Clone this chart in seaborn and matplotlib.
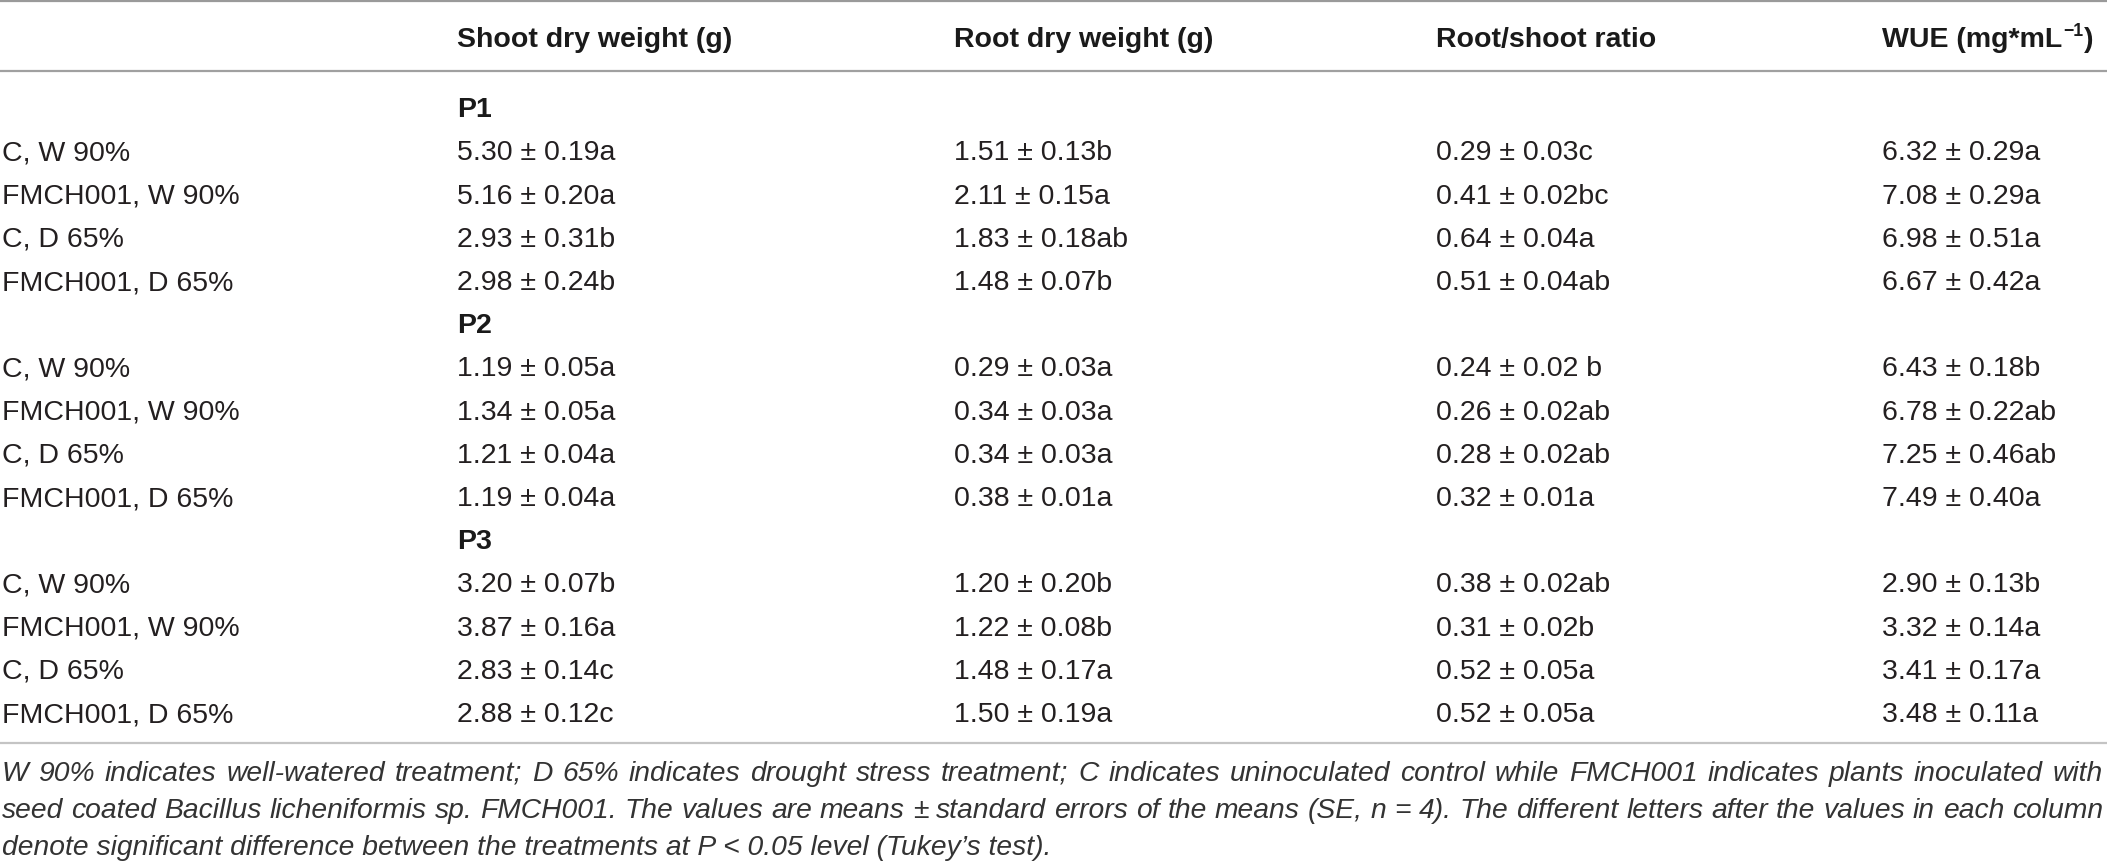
import matplotlib
matplotlib.use("Agg")
import matplotlib.pyplot as plt
import seaborn as sns
import pandas as pd

# ---------------- data ----------------
periods = ["P1", "P2", "P3"]
treatments = ["C, W 90%", "FMCH001, W 90%", "C, D 65%", "FMCH001, D 65%"]
columns = ["Shoot dry weight (g)", "Root dry weight (g)", "Root/shoot ratio", "WUE (mg*mL"]

shoot_mean = [5.30, 5.16, 2.93, 2.98, 1.19, 1.34, 1.21, 1.19, 3.20, 3.87, 2.83, 2.88]
shoot_se = [0.19, 0.20, 0.31, 0.24, 0.05, 0.05, 0.04, 0.04, 0.07, 0.16, 0.14, 0.12]
shoot_let = ["a", "a", "b", "b", "a", "a", "a", "a", "b", "a", "c", "c"]

root_mean = [1.51, 2.11, 1.83, 1.48, 0.29, 0.34, 0.34, 0.38, 1.20, 1.22, 1.48, 1.50]
root_se = [0.13, 0.15, 0.18, 0.07, 0.03, 0.03, 0.03, 0.01, 0.20, 0.08, 0.17, 0.19]
root_let = ["b", "a", "ab", "b", "a", "a", "a", "a", "b", "b", "a", "a"]

ratio_mean = [0.29, 0.41, 0.64, 0.51, 0.24, 0.26, 0.28, 0.32, 0.38, 0.31, 0.52, 0.52]
ratio_se = [0.03, 0.02, 0.04, 0.04, 0.02, 0.02, 0.02, 0.01, 0.02, 0.02, 0.05, 0.05]
ratio_let = ["c", "bc", "a", "ab", " b", "ab", "ab", "a", "ab", "b", "a", "a"]

wue_mean = [6.32, 7.08, 6.98, 6.67, 6.43, 6.78, 7.25, 7.49, 2.90, 3.32, 3.41, 3.48]
wue_se = [0.29, 0.29, 0.51, 0.42, 0.18, 0.22, 0.46, 0.40, 0.13, 0.14, 0.17, 0.11]
wue_let = ["a", "a", "a", "a", "b", "ab", "ab", "a", "b", "a", "a", "a"]

caption_lines = [
    "W 90% indicates well-watered treatment; D 65% indicates drought stress treatment; C indicates uninoculated control while FMCH001 indicates plants inoculated with",
    "seed coated Bacillus licheniformis sp. FMCH001. The values are means \u00b1 standard errors of the means (SE, n = 4). The different letters after the values in each column",
    "denote significant difference between the treatments at P < 0.05 level (Tukey\u2019s test).",
]

# ---------------- table frame ----------------
def fmt(m, s, l):
    return [f"{a:.2f} \u00b1 {b:.2f}{c}" for a, b, c in zip(m, s, l)]

df = pd.DataFrame({
    "period": [p for p in periods for _ in treatments],
    "treatment": treatments * len(periods),
    columns[0]: fmt(shoot_mean, shoot_se, shoot_let),
    columns[1]: fmt(root_mean, root_se, root_let),
    columns[2]: fmt(ratio_mean, ratio_se, ratio_let),
    columns[3]: fmt(wue_mean, wue_se, wue_let),
})

# ---------------- style ----------------
sns.set_theme(style="white")
plt.rcParams["font.family"] = ["Liberation Sans", "DejaVu Sans"]

W, H = 2107, 861
fig = plt.figure(figsize=(W / 100, H / 100), dpi=100)
ax = fig.add_axes([0, 0, 1, 1])
ax.set_xlim(0, W)
ax.set_ylim(H, 0)
ax.axis("off")

FS = 20.5          # pt (≈28.5 px)
CFS = 20.3         # caption
txt_col = "#231f20"

label_x = 2
col_x = [457, 954, 1436, 1882]
header_y = 37
row0_y = 107
pitch = 43.2
cap_off = 0.36 * FS * 100 / 72   # center -> baseline

# rules
for yy, c in [(1, "#9a9a9a"), (71, "#a0a0a0"), (743, "#c4c4c4")]:
    ax.axhline(yy, color=c, lw=1.6)

# header
for i, name in enumerate(columns):
    t = ax.text(col_x[i], header_y + cap_off, name, fontsize=FS, fontweight="bold",
                color="#1a1a1a", ha="left", va="baseline")
fig.canvas.draw()
r = fig.canvas.get_renderer()
bb = t.get_window_extent(r)
t_sup = ax.text(bb.x1 + 1, header_y + cap_off - 11, "\u22121", fontsize=FS * 0.62,
                fontweight="bold", color="#1a1a1a", ha="left", va="baseline")
fig.canvas.draw()
bb2 = t_sup.get_window_extent(r)
ax.text(bb2.x1 + 1, header_y + cap_off, ")", fontsize=FS, fontweight="bold",
        color="#1a1a1a", ha="left", va="baseline")

# body
row = 0
for p in periods:
    y = row0_y + row * pitch
    ax.text(col_x[0], y + cap_off, p, fontsize=FS, fontweight="bold",
            color="#1a1a1a", ha="left", va="baseline")
    row += 1
    sub = df[df["period"] == p]
    for _, rec in sub.iterrows():
        y = row0_y + row * pitch
        ax.text(label_x, y + cap_off, rec["treatment"], fontsize=FS, color=txt_col,
                ha="left", va="baseline")
        for i, name in enumerate(columns):
            ax.text(col_x[i], y + cap_off, rec[name], fontsize=FS, color=txt_col,
                    ha="left", va="baseline")
        row += 1

# caption (justified first two lines)
cap_y = [771, 808, 845]
cap_col = "#333333"
ccap = 0.36 * CFS * 100 / 72
for li, line in enumerate(caption_lines):
    yb = cap_y[li] + ccap
    if li < 2:
        words = line.split(" ")
        arts = [ax.text(0, yb, w_, fontsize=CFS, style="italic", color=cap_col,
                        ha="left", va="baseline") for w_ in words]
        fig.canvas.draw()
        widths = [a.get_window_extent(r).width for a in arts]
        gap = (W - 4 - label_x - sum(widths)) / (len(words) - 1)
        x = label_x
        for a, wd in zip(arts, widths):
            a.set_x(x)
            x += wd + gap
    else:
        ax.text(label_x, yb, line, fontsize=CFS, style="italic", color=cap_col,
                ha="left", va="baseline")

fig.savefig("out.png", dpi=100)
